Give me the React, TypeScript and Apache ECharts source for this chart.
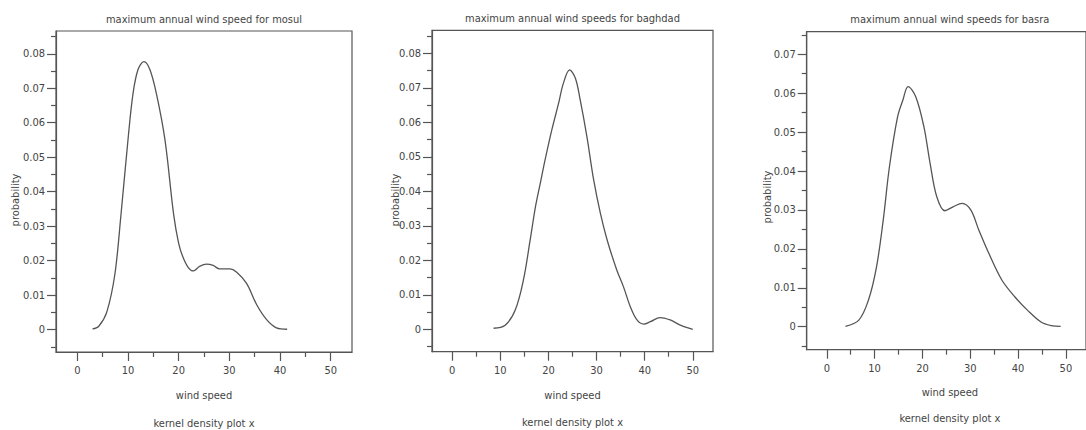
import React, { useEffect, useRef } from "react";
import * as echarts from "echarts";

// ---- data ----
const titles = [
  "maximum annual wind speed for mosul",
  "maximum annual wind speeds for baghdad",
  "maximum annual wind speeds for basra",
];
const xAxisTitle = "wind speed";
const yAxisTitle = "probability";
const footTitle = "kernel density plot x";

const xTicks = [0, 10, 20, 30, 40, 50];
const xMinorTicks = [5, 15, 25, 35, 45];
const yTicksA = [0, 0.01, 0.02, 0.03, 0.04, 0.05, 0.06, 0.07, 0.08];
const yMinorTicksA = [-0.005, 0.005, 0.015, 0.025, 0.035, 0.045, 0.055, 0.065, 0.075, 0.085];
const yTicksB = [0, 0.01, 0.02, 0.03, 0.04, 0.05, 0.06, 0.07];
const yMinorTicksB = [-0.005, 0.005, 0.015, 0.025, 0.035, 0.045, 0.055, 0.065, 0.075];

const mosulSpeed = [3.0, 4.2, 5.8, 7.4, 8.6, 10.0, 11.0, 12.0, 13.15, 14.3, 15.6, 17.3, 19.0, 20.0, 20.8, 21.9, 22.9, 24.1, 25.5, 26.8, 28.1, 30.1, 31.4, 33.4, 35.4, 37.4, 39.3, 41.4];
const mosulDensity = [0.0002, 0.0009, 0.005, 0.0159, 0.033, 0.055, 0.0685, 0.0755, 0.0777, 0.0755, 0.0685, 0.055, 0.0335, 0.025, 0.0212, 0.018, 0.017, 0.0183, 0.019, 0.0186, 0.0176, 0.0176, 0.0167, 0.0134, 0.0072, 0.0028, 0.0005, 0.0001];

const baghdadSpeed = [8.6, 11.0, 13.1, 14.8, 16.2, 17.3, 18.3, 19.3, 20.7, 22.1, 23.1, 24.4, 25.6, 26.6, 28.0, 29.4, 30.8, 32.2, 34.2, 35.6, 37.0, 38.4, 39.8, 41.2, 43.2, 45.3, 47.4, 50.0];
const baghdadDensity = [0.0003, 0.0012, 0.0056, 0.0143, 0.0259, 0.0355, 0.0423, 0.0491, 0.0578, 0.0655, 0.0713, 0.0752, 0.0728, 0.0665, 0.0558, 0.0433, 0.0336, 0.0259, 0.0172, 0.0123, 0.0066, 0.0027, 0.0015, 0.0022, 0.0034, 0.0027, 0.0012, 0.0];

const basraSpeed = [3.9, 6.7, 8.7, 10.4, 11.8, 13.1, 14.8, 15.9, 17.0, 18.6, 20.3, 21.6, 23.0, 24.7, 26.4, 28.3, 30.1, 31.8, 33.9, 36.6, 39.3, 42.0, 44.8, 46.9, 48.9];
const basraDensity = [0.0001, 0.0017, 0.0068, 0.0154, 0.0274, 0.0411, 0.0539, 0.0582, 0.0617, 0.0591, 0.0514, 0.042, 0.0334, 0.0298, 0.0308, 0.0317, 0.03, 0.0248, 0.0188, 0.012, 0.0077, 0.0042, 0.0012, 0.0003, 0.0001];

// ---- layout / style ----
const FONT = "'DejaVu Sans Condensed', 'Liberation Sans Narrow', 'DejaVu Sans', sans-serif";
const INK = "#555";
const TXT = "#444";
const FS = 11;

const panels = [
  { left: 56, top: 31, width: 296, height: 321, ymin: -0.0065, ymax: 0.0866, yt: yTicksA, ym: yMinorTicksA, xs: mosulSpeed, ys: mosulDensity, ylabX: 15, ylabY: 200, xlabY: 395, footY: 423 },
  { left: 432, top: 30.3, width: 281, height: 321.4, ymin: -0.0065, ymax: 0.0867, yt: yTicksA, ym: yMinorTicksA, xs: baghdadSpeed, ys: baghdadDensity, ylabX: 395, ylabY: 200, xlabY: 395, footY: 422 },
  { left: 806.7, top: 31.7, width: 286.3, height: 318, ymin: -0.0059, ymax: 0.0758, yt: yTicksB, ym: yMinorTicksB, xs: basraSpeed, ys: basraDensity, ylabX: 767, ylabY: 197, xlabY: 392, footY: 418 },
];

export default function App() {
  const ref = useRef<HTMLDivElement>(null);
  useEffect(() => {
    if (!ref.current) return;
    const chart = echarts.init(ref.current, undefined, { renderer: "svg" });
    const grids: any[] = [];
    const xAxes: any[] = [];
    const yAxes: any[] = [];
    const series: any[] = [];
    const graphic: any[] = [];
    const lbl = { fontFamily: FONT, fontSize: FS, color: TXT };
    panels.forEach((p, i) => {
      grids.push({
        left: p.left, top: p.top, width: p.width, height: p.height,
        show: true, borderColor: INK, borderWidth: 1.2, backgroundColor: "transparent",
      });
      const common = { type: "value", gridIndex: i, min: -4.2, max: 54.2, position: "bottom", splitLine: { show: false } };
      xAxes.push({
        ...common,
        axisLine: { show: true, onZero: false, lineStyle: { color: INK, width: 1.2 } },
        axisTick: { show: true, length: 9, customValues: xTicks, lineStyle: { color: INK, width: 1.2 } },
        axisLabel: { ...lbl, customValues: xTicks, margin: 13 },
      });
      xAxes.push({
        ...common,
        axisLine: { show: false, onZero: false },
        axisTick: { show: true, length: 5, customValues: xMinorTicks, lineStyle: { color: INK, width: 1.2 } },
        axisLabel: { show: false },
      });
      const ycommon = { type: "value", gridIndex: i, min: p.ymin, max: p.ymax, position: "left", splitLine: { show: false } };
      yAxes.push({
        ...ycommon,
        axisLine: { show: true, onZero: false, lineStyle: { color: INK, width: 1.2 } },
        axisTick: { show: true, length: 9, customValues: p.yt, lineStyle: { color: INK, width: 1.2 } },
        axisLabel: { ...lbl, customValues: p.yt, margin: 11, formatter: (v: number) => (v === 0 ? "0" : v.toFixed(2)) },
      });
      yAxes.push({
        ...ycommon,
        axisLine: { show: false, onZero: false },
        axisTick: { show: true, length: 5, customValues: p.ym, lineStyle: { color: INK, width: 1.2 } },
        axisLabel: { show: false },
      });
      series.push({
        type: "line",
        xAxisIndex: 2 * i,
        yAxisIndex: 2 * i,
        data: p.xs.map((x, k) => [x, p.ys[k]]),
        smooth: 0.35,
        showSymbol: false,
        lineStyle: { color: INK, width: 1.3 },
        silent: true,
      });
      const cx = p.left + p.width / 2;
      graphic.push(
        { type: "text", x: cx, y: p.top - 12, style: { text: titles[i], ...lbl, fill: TXT, textAlign: "center", textVerticalAlign: "middle" } },
        { type: "text", x: cx, y: p.xlabY, style: { text: xAxisTitle, ...lbl, fill: TXT, textAlign: "center", textVerticalAlign: "middle" } },
        { type: "text", x: cx, y: p.footY, style: { text: footTitle, ...lbl, fill: TXT, textAlign: "center", textVerticalAlign: "middle" } },
        { type: "text", x: p.ylabX, y: p.ylabY, rotation: Math.PI / 2, style: { text: yAxisTitle, ...lbl, fill: TXT, textAlign: "center", textVerticalAlign: "middle" } },
      );
    });
    chart.setOption({
      animation: false,
      backgroundColor: "#fff",
      grid: grids,
      xAxis: xAxes,
      yAxis: yAxes,
      series,
      graphic,
    });
    return () => chart.dispose();
  }, []);
  return (
    <div
      ref={ref}
      style={{ position: "absolute", left: 0, top: 0, width: 1086, height: 430, overflow: "hidden" }}
    />
  );
}
